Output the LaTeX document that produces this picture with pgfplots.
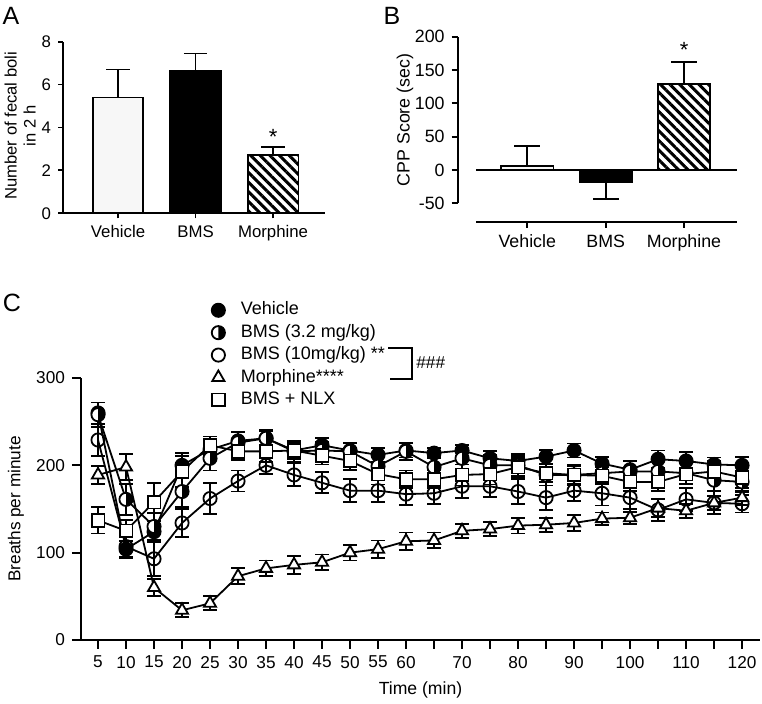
\documentclass[border=0pt]{standalone}
\usepackage{fontspec}
\setmainfont{Liberation Sans}
\usepackage{pgfplots}
\pgfplotsset{compat=1.18}
\usetikzlibrary{patterns.meta,plotmarks}

% breathing rate (breaths/min) with SEM, per group
\pgfplotstableread{
t   veh vehe bA  bAe bB  bBe mor more nlx nlxe
5   260 12   258 14  229 18  189 10   137 15
10  104 10   161 18  107 12  198 15   125 12
15  124 12   130 15  93  20  60  10   158 22
20  200 14   170 18  134 16  34  8    193 18
25  218 10   208 14  162 18  42  8    223 10
30  228 10   226 12  182 12  73  9    216 10
35  231 8    231 10  200 10  82  9    216 12
40  217 10   216 12  189 13  86  10   217 10
45  223 8    217 10  180 12  89  9    211 10
50  217 8    216 10  171 13  100 9    205 10
55  212 8    199 12  171 13  104 10   190 12
60  217 8    216 10  167 12  113 10   184 10
65  214 6    198 12  168 12  114 9    184 10
70  217 6    208 12  176 13  125 8    189 12
75  208 8    200 12  176 12  127 8    190 12
80  205 8    200 12  170 14  131 9    198 12
85  210 8    189 12  163 14  132 8    191 10
90  217 8    189 12  171 12  134 9    189 10
95  202 8    191 12  168 14  139 7    188 10
100 195 10   193 12  163 13  140 7    181 10
105 207 10   193 12  149 13  151 10   181 10
110 205 10   191 12  161 13  148 8    190 12
115 201 8    183 12  157 13  157 8    193 12
120 200 10   181 12  156 10  163 8    186 12
}\breathdata

\pgfplotsset{
  panel/.style={
    scale only axis, anchor=south west,
    tick align=outside, major tick length=3pt,
    tick style={black, line width=0.9pt},
    axis line style={line width=0.9pt},
    /pgf/number format/assume math mode=true,
    clip=false,
  },
}

\begin{document}
\begin{tikzpicture}
\useasboundingbox (0,0) rectangle (381pt,351.5pt);

% ---------- A ----------
\begin{axis}[panel,
  width=130.85pt, height=85.8pt, at={(31.65pt,244.85pt)},
  xmin=-0.706, xmax=2.67, ymin=0, ymax=8,
  axis x line*=bottom, axis y line*=left,
  major tick length=2.6pt,
  xtick={0,1,2}, xticklabels={Vehicle,BMS,Morphine},
  ytick={0,2,4,6,8},
  tick label style={font=\fontsize{8.4}{10}\selectfont},
  ylabel={Number of fecal boli\\in 2 h},
  ylabel style={at={(axis description cs:-0.165,0.51)}, anchor=center, align=center,
    font=\fontsize{8.3}{9.6}\selectfont},
  ybar, bar width=25.35pt,
  error bars/y dir=plus, error bars/y explicit,
  error bars/error bar style={line width=0.9pt, black},
  error bars/error mark options={rotate=90, line width=0.9pt, mark size=5.8pt, black},
]
\addplot[bar shift=0pt, draw=black, line width=0.9pt, fill=white!97!black]
  coordinates {(0,5.4) +- (0,1.3)};
\addplot[bar shift=0pt, draw=black, line width=0.9pt, fill=black]
  coordinates {(1,6.65) +- (0,0.8)};
\addplot[bar shift=0pt, draw=black, line width=0.9pt,
  pattern={Lines[angle=-45,distance=3.4pt,line width=1.5pt]}, pattern color=black]
  coordinates {(2,2.72) +- (0,0.38)};
\node[font=\fontsize{11}{12}\selectfont] at (axis cs:2,3.79) [yshift=-2.4pt] {*};
\end{axis}

% ---------- B ----------
\begin{axis}[panel,
  width=139.5pt, height=92.5pt, at={(228.85pt,240.65pt)},
  xmin=-0.888, xmax=2.672, ymin=-77.5, ymax=200,
  axis line style={draw=none},
  tick pos=left,
  xtick={0,1,2}, xticklabels={Vehicle,BMS,Morphine},
  ytick={-50,0,50,100,150,200},
  tick label style={font=\fontsize{8.9}{10}\selectfont},
  ylabel={CPP Score (sec)},
  ylabel style={at={(axis description cs:-0.189,0.55)}, anchor=center,
    font=\fontsize{8.9}{10}\selectfont},
  ybar, bar width=26.2pt,
  error bars/y explicit,
  error bars/error bar style={line width=0.9pt, black},
  error bars/error mark options={rotate=90, line width=0.9pt, mark size=6.5pt, black},
]
\addplot[bar shift=0pt, draw=black, line width=0.9pt, fill=white!97!black,
  error bars/y dir=plus]
  coordinates {(0,6.5) +- (0,29.5)};
\addplot[bar shift=0pt, draw=black, line width=0.9pt, fill=black,
  error bars/y dir=minus]
  coordinates {(1,-17.5) +- (0,25.5)};
\addplot[bar shift=0pt, draw=black, line width=0.9pt,
  pattern={Lines[angle=-45,distance=3.4pt,line width=1.5pt]}, pattern color=black,
  error bars/y dir=plus]
  coordinates {(2,128.5) +- (0,33.5)};
\draw[line width=0.9pt] (axis cs:-0.888,-50) -- (axis cs:-0.888,200);
\draw[line width=0.9pt] (axis cs:-0.65,-77.5) -- (axis cs:2.672,-77.5);
\draw[line width=0.9pt] (axis cs:-0.65,0) -- (axis cs:2.672,0);
\node[font=\fontsize{11}{12}\selectfont] at (axis cs:2,187) [yshift=-2.4pt] {*};
\end{axis}

% ---------- C ----------
\begin{axis}[panel,
  width=339.5pt, height=131pt, at={(40.5pt,31.5pt)},
  xmin=1.96, xmax=123.2, ymin=0, ymax=300,
  axis x line*=bottom, axis y line*=left,
  major tick length=4.5pt,
  xtick={5,10,...,120},
  xticklabels={5,10,15,20,25,30,35,40,45,50,55,60,,70,,80,,90,,100,,110,,120},
  ytick={0,100,200,300},
  tick label style={font=\fontsize{8.6}{10}\selectfont},
  xlabel={Time (min)},
  xlabel style={at={(axis description cs:0.5,-0.19)}, anchor=center,
    font=\fontsize{8.8}{10}\selectfont},
  ylabel={Breaths per minute},
  ylabel style={at={(axis description cs:-0.096,0.5)}, anchor=center,
    font=\fontsize{8.6}{10}\selectfont},
  error bars/y dir=both, error bars/y explicit,
  error bars/error bar style={line width=0.9pt, black},
  error bars/error mark options={rotate=90, line width=0.9pt, mark size=3.3pt, black},
  legend image code/.code={\draw[#1] plot coordinates {(0pt,0pt)};},
  legend cell align=left,
  legend style={at={(0.192,1.302)}, anchor=north west, draw=none, fill=none,
    font=\fontsize{9}{10}\selectfont, row sep=0.2pt, inner sep=0pt,
    nodes={inner sep=1pt, text height=6.8pt, text depth=2.2pt},
    /tikz/every odd column/.append style={column sep=6.9pt}},
]
\addplot[black, line width=0.9pt, mark=*, mark size=3.3pt, mark options={fill=black}]
  table[x=t, y=veh, y error=vehe] {\breathdata};
\addplot[black, line width=0.9pt, mark=halfcircle*, mark size=3.3pt,
  mark options={fill=white, mark color=black, rotate=90}]
  table[x=t, y=bA, y error=bAe] {\breathdata};
\addplot[black, line width=0.9pt, mark=o, mark size=3.3pt, mark options={fill=white}]
  table[x=t, y=bB, y error=bBe] {\breathdata};
\addplot[black, line width=0.9pt, mark=triangle*, mark size=3.5pt, mark options={fill=white}]
  table[x=t, y=mor, y error=more] {\breathdata};
\addplot[black, line width=0.9pt, mark=square*, mark size=3.2pt, mark options={fill=white}]
  table[x=t, y=nlx, y error=nlxe] {\breathdata};
\legend{Vehicle,{BMS (3.2 mg/kg)},{BMS (10mg/kg) **},Morphine****,{BMS + NLX}}
\end{axis}

% significance bracket
\draw[line width=0.9pt] (194pt,177.5pt) -- (206pt,177.5pt) -- (206pt,162pt) -- (195pt,162pt);
\node[anchor=west, font=\fontsize{8.6}{10}\selectfont, inner sep=0pt] at (208pt,170pt) {\#\#\#};

% panel letters
\node[font=\fontsize{12.5}{14}\selectfont] at (5.5pt,343.5pt) {A};
\node[font=\fontsize{12.5}{14}\selectfont] at (196pt,343.5pt) {B};
\node[font=\fontsize{12.5}{14}\selectfont] at (6pt,200pt) {C};
\end{tikzpicture}
\end{document}
